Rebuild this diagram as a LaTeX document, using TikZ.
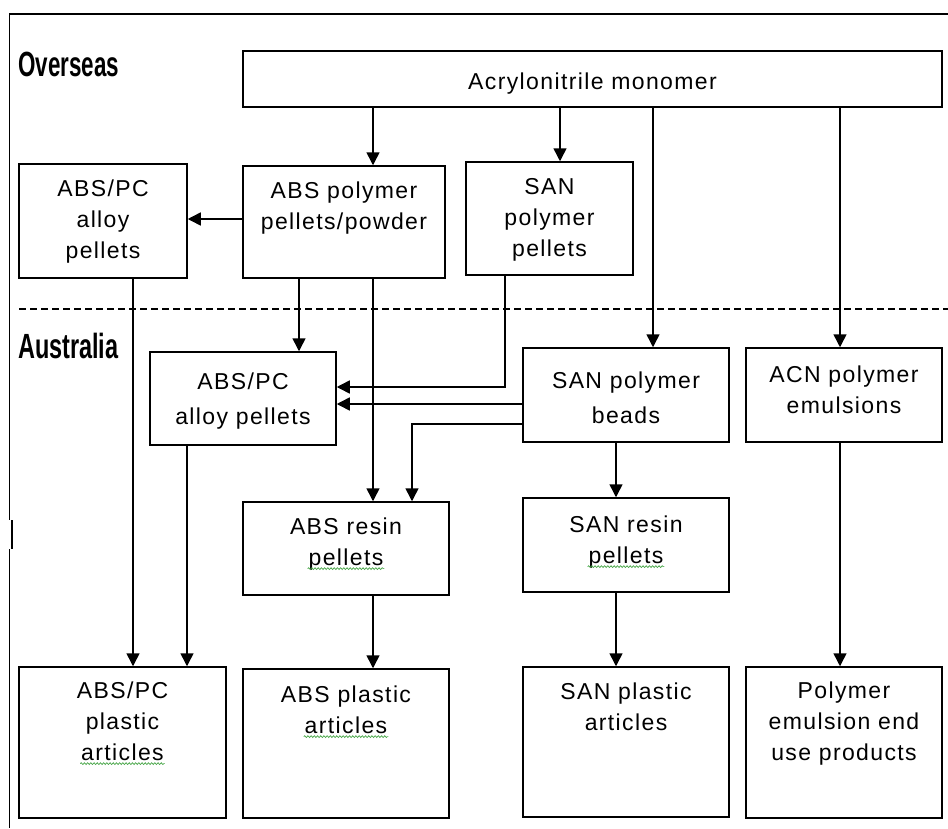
\documentclass[tikz,border=0pt]{standalone}
\usepackage{fontspec}
\usepackage{graphicx}
\setmainfont{Liberation Sans}
\newfontfamily\boxfont{Liberation Sans}[LetterSpace=6]
\usetikzlibrary{arrows.meta,decorations.pathmorphing}
\definecolor{spell}{RGB}{70,165,70}
\newcommand\squig[1]{\tikz[baseline=(sqw.base)]{\node[inner sep=0pt,outer sep=0pt] (sqw) {#1};\draw[overlay,spell,line width=0.7pt,decorate,decoration={snake,amplitude=0.9pt,segment length=3.2pt}] ([yshift=-3.5pt,xshift=-1pt]sqw.base west) -- ([yshift=-3.5pt,xshift=1pt]sqw.base east);}}
\tikzset{
  box/.style={draw, line width=1.5pt, inner sep=0pt},
  txt/.style={font=\boxfont\fontsize{23}{31}\selectfont, align=center, inner sep=0pt, anchor=north},
  txtw/.style={font=\boxfont\fontsize{23}{35}\selectfont, align=center, inner sep=0pt, anchor=north},
  arr/.style={line width=1.5pt, -{Triangle[length=13pt,width=13pt]}},
  frame/.style={line width=1.5pt},
  lbl/.style={anchor=west, inner sep=0pt, font=\bfseries\fontsize{35}{38}\selectfont}
}
\begin{document}
\begin{tikzpicture}[x=1pt,y=-1pt]
\useasboundingbox (0,0) rectangle (948,828);
% frame
\draw[frame] (948,14) -- (9.5,14) -- (9.5,520);
\draw[frame] (12,520) -- (12,549);
\draw[frame] (9.5,549) -- (9.5,828);
\draw[frame, dash pattern=on 7pt off 4pt] (19,309) -- (948,309);
% region labels
\node[lbl] (over) at (18,64) {\scalebox{0.64}[1]{Overseas}};
\node[lbl] (aus) at (18,346) {\scalebox{0.67}[1]{Australia}};
% boxes
\node[box, minimum width=699pt, minimum height=56pt] (mono) at (592.5,79) {};
\node[box, minimum width=168pt, minimum height=114pt] (apc1) at (103,221) {};
\node[box, minimum width=202pt, minimum height=112pt] (abspoly) at (344,222) {};
\node[box, minimum width=167pt, minimum height=113pt] (sanpel) at (549.5,218.5) {};
\node[box, minimum width=186pt, minimum height=93pt] (apc2) at (243,398.5) {};
\node[box, minimum width=206pt, minimum height=94pt] (sanbead) at (626,395) {};
\node[box, minimum width=196pt, minimum height=94pt] (acn) at (844,395) {};
\node[box, minimum width=206pt, minimum height=93pt] (absres) at (346,548.5) {};
\node[box, minimum width=206pt, minimum height=94pt] (sanres) at (626,545) {};
\node[box, minimum width=207pt, minimum height=151pt] (apcart) at (122.5,742.5) {};
\node[box, minimum width=206pt, minimum height=149pt] (absart) at (346,743.5) {};
\node[box, minimum width=206pt, minimum height=150pt] (sanart) at (626,742) {};
\node[box, minimum width=196pt, minimum height=151pt] (emart) at (844,742.5) {};
% texts
\node[txt] (tmono) at ([yshift=-22pt]mono.north) {Acrylonitrile monomer};
\node[txt] (tapc1) at ([yshift=-16pt]apc1.north) {ABS/PC\\alloy\\pellets};
\node[txt] (tabspoly) at ([yshift=-16pt]abspoly.north) {ABS polymer\\pellets/powder};
\node[txt] (tsanpel) at ([yshift=-17pt]sanpel.north) {SAN\\polymer\\pellets};
\node[txtw] (tapc2) at ([yshift=-21pt]apc2.north) {ABS/PC\\alloy pellets};
\node[txtw] (tsanbead) at ([yshift=-24pt]sanbead.north) {SAN polymer\\beads};
\node[txt] (tacn) at ([yshift=-18pt]acn.north) {ACN polymer\\emulsions};
\node[txt] (tabsres) at ([yshift=-16pt]absres.north) {ABS resin\\\squig{pellets}};
\node[txt] (tsanres) at ([yshift=-18pt]sanres.north) {SAN resin\\\squig{pellets}};
\node[txt] (tapcart) at ([yshift=-15pt]apcart.north) {ABS/PC\\plastic\\\squig{articles}};
\node[txt] (tabsart) at ([yshift=-17pt]absart.north) {ABS plastic\\\squig{articles}};
\node[txt] (tsanart) at ([yshift=-16pt]sanart.north) {SAN plastic\\articles};
\node[txt] (temart) at ([yshift=-15pt]emart.north) {Polymer\\emulsion end\\use products};
% helper coordinates
\coordinate (c133) at (133,0);
\coordinate (c187) at (187,0);
\coordinate (c299) at (299,0);
\coordinate (c373) at (373,0);
\coordinate (c412) at (412,0);
\coordinate (c505) at (505,0);
\coordinate (c560) at (560,0);
\coordinate (c616) at (616,0);
\coordinate (c653) at (653,0);
\coordinate (c840) at (840,0);
\coordinate (r219) at (0,219);
\coordinate (r387) at (0,387);
\coordinate (r404) at (0,404);
\coordinate (r424) at (0,424);
% connectors
\draw[arr] (c373 |- mono.south) -- (c373 |- abspoly.north);
\draw[arr] (c560 |- mono.south) -- (c560 |- sanpel.north);
\draw[arr] (c653 |- mono.south) -- (c653 |- sanbead.north);
\draw[arr] (c840 |- mono.south) -- (c840 |- acn.north);
\draw[arr] (abspoly.west |- r219) -- (apc1.east |- r219);
\draw[arr] (c299 |- abspoly.south) -- (c299 |- apc2.north);
\draw[arr] (c373 |- abspoly.south) -- (c373 |- absres.north);
\draw[arr] (c505 |- sanpel.south) |- (apc2.east |- r387);
\draw[arr] (sanbead.west |- r404) -- (apc2.east |- r404);
\draw[arr] (sanbead.west |- r424) -| (c412 |- absres.north);
\draw[arr] (c616 |- sanbead.south) -- (c616 |- sanres.north);
\draw[arr] (c616 |- sanres.south) -- (c616 |- sanart.north);
\draw[arr] (c373 |- absres.south) -- (c373 |- absart.north);
\draw[arr] (c133 |- apc1.south) -- (c133 |- apcart.north);
\draw[arr] (c187 |- apc2.south) -- (c187 |- apcart.north);
\draw[arr] (c840 |- acn.south) -- (c840 |- emart.north);
\end{tikzpicture}
\end{document}
